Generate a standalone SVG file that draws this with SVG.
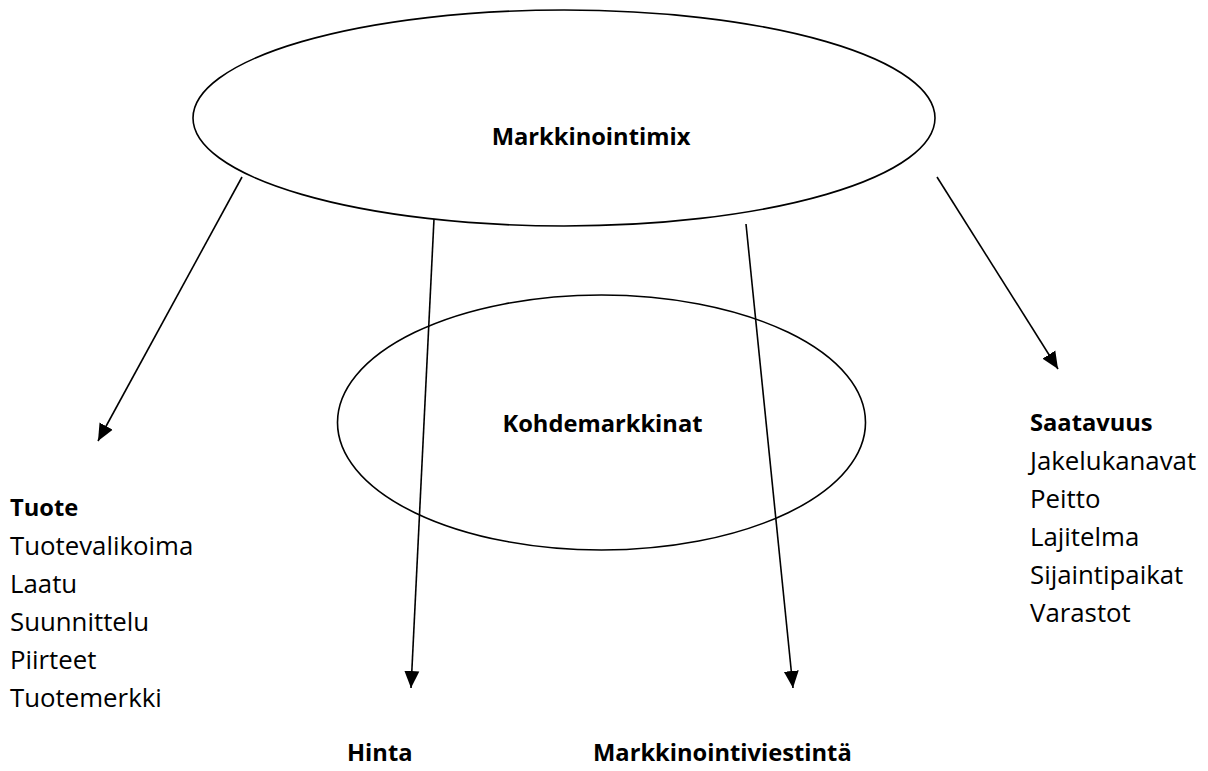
<svg xmlns="http://www.w3.org/2000/svg" width="1208" height="771" viewBox="0 0 1208 771">
<style>
.shape{fill:none;stroke:#000;stroke-width:1.6}
.conn{stroke:#000;stroke-width:1.6;fill:none}
text{font-family:"Open Sans","Liberation Sans",sans-serif;font-size:25.8px;fill:#000}
.b{font-weight:bold;font-size:23.7px}
.c{text-anchor:middle}
</style>
<defs>
<marker id="ah" markerUnits="userSpaceOnUse" markerWidth="18" markerHeight="16" refX="17" refY="7.5" orient="auto" viewBox="0 0 18 15">
<path d="M0,0 L17,7.5 L0,15 z" fill="#000"/>
</marker>
</defs>
<rect width="1208" height="771" fill="#fff"/>
<g id="markkinointimix">
<ellipse class="shape" cx="564" cy="118" rx="371" ry="108"/>
<text class="b c" x="591" y="145">Markkinointimix</text>
</g>
<g id="kohdemarkkinat">
<ellipse class="shape" cx="601.5" cy="422.5" rx="264" ry="127.5"/>
<text class="b c" x="602.5" y="432">Kohdemarkkinat</text>
</g>
<g id="connectors">
<line class="conn" x1="242" y1="177" x2="98" y2="441" marker-end="url(#ah)"/>
<line class="conn" x1="434" y1="219" x2="411" y2="688" marker-end="url(#ah)"/>
<line class="conn" x1="746" y1="224" x2="793" y2="688" marker-end="url(#ah)"/>
<line class="conn" x1="937" y1="177" x2="1058" y2="369" marker-end="url(#ah)"/>
</g>
<g id="tuote">
<text class="b" x="10" y="516">Tuote</text>
<text x="10" y="555">Tuotevalikoima</text>
<text x="10" y="593">Laatu</text>
<text x="10" y="631">Suunnittelu</text>
<text x="10" y="669">Piirteet</text>
<text x="10" y="707">Tuotemerkki</text>
</g>
<g id="saatavuus">
<text class="b" x="1030" y="431">Saatavuus</text>
<text x="1030" y="470">Jakelukanavat</text>
<text x="1030" y="508">Peitto</text>
<text x="1030" y="546">Lajitelma</text>
<text x="1030" y="584">Sijaintipaikat</text>
<text x="1030" y="622">Varastot</text>
</g>
<g id="hinta">
<text class="b" x="347" y="761">Hinta</text>
</g>
<g id="markkinointiviestinta">
<text class="b" x="593" y="761">Markkinointiviestintä</text>
</g>
</svg>
